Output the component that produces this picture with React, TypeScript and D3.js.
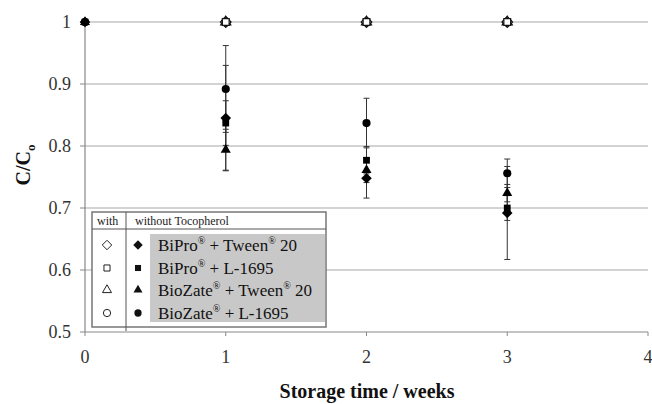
import React from "react";
import * as d3 from "d3";

const weeks = [0, 1, 2, 3];
const seriesNames = ["BiPro", "BiPro", "BioZate", "BioZate"];
const surfactants = ["Tween", "L-1695", "Tween", "L-1695"];
const yTicks = [0.5, 0.6, 0.7, 0.8, 0.9, 1];
const xTicks = [0, 1, 2, 3, 4];

// without tocopherol (filled)
const biproTween = [1, 0.845, 0.748, 0.692];
const biproTweenErr = [0, 0.085, 0.032, 0.075];
const biproL1695 = [1, 0.837, 0.777, 0.7];
const biproL1695Err = [0, 0.036, 0.022, 0.02];
const biozateTween = [1, 0.794, 0.761, 0.724];
const biozateTweenErr = [0, 0.033, 0.02, 0.014];
const biozateL1695 = [1, 0.892, 0.837, 0.756];
const biozateL1695Err = [0, 0.07, 0.04, 0.023];

// with tocopherol (open)
const withToco = [1, 1, 1, 1];

const width = 652;
const height = 404;
const margin = { left: 85, right: 4, top: 22, bottom: 72 };

// square rotated 45deg for the diamond, like the spreadsheet marker
const diamond: d3.SymbolType = {
  draw(ctx, size) {
    const r = Math.sqrt(size / 2);
    ctx.moveTo(0, -r);
    ctx.lineTo(r, 0);
    ctx.lineTo(0, r);
    ctx.lineTo(-r, 0);
    ctx.closePath();
  },
};
const symbols = [diamond, d3.symbolSquare, d3.symbolTriangle, d3.symbolCircle];
const symSizes = [56, 46, 44, 52];
// draw order so the square ends on top at week 0
const drawOrder = [3, 2, 0, 1];

export default function App() {
  const x = d3.scaleLinear().domain([0, 4]).range([margin.left, width - margin.right]);
  const y = d3.scaleLinear().domain([0.5, 1]).range([height - margin.bottom, margin.top]);

  const filled = [
    { v: biproTween, e: biproTweenErr },
    { v: biproL1695, e: biproL1695Err },
    { v: biozateTween, e: biozateTweenErr },
    { v: biozateL1695, e: biozateL1695Err },
  ];

  const sym = (i: number, s = 1) => d3.symbol().type(symbols[i]).size(symSizes[i] * s)()!;
  const serif = "'Liberation Serif', 'Times New Roman', serif";

  const lg = { x: 92, y: 212, w: 234, h: 115 };
  const rowY = [245, 268, 290, 313];

  return (
    <svg width={width} height={height} style={{ position: "absolute", left: 0, top: 0, fontFamily: serif }}>
      <rect width={width} height={height} fill="#fff" />
      {/* gridlines */}
      {yTicks.slice(1).map((t) => (
        <line key={t} x1={margin.left} x2={width - margin.right} y1={y(t)} y2={y(t)} stroke="#c4c4c4" strokeWidth={1.3} />
      ))}
      {/* axes */}
      <line x1={x(0)} x2={x(0)} y1={y(1)} y2={y(0.5)} stroke="#888" strokeWidth={1.2} />
      <line x1={x(0)} x2={x(4)} y1={y(0.5)} y2={y(0.5)} stroke="#888" strokeWidth={1.2} />
      {yTicks.map((t) => (
        <g key={t}>
          <line x1={x(0) - 5} x2={x(0)} y1={y(t)} y2={y(t)} stroke="#888" />
          <text x={71} y={y(t)} dy="0.35em" textAnchor="end" fontSize={18} fill="#333">{d3.format("")(t)}</text>
        </g>
      ))}
      {xTicks.map((t) => (
        <g key={t}>
          <line x1={x(t)} x2={x(t)} y1={y(0.5)} y2={y(0.5) + 4} stroke="#888" />
          <text x={x(t)} y={363} textAnchor="middle" fontSize={18} fill="#333">{t}</text>
        </g>
      ))}
      <text x={367} y={398} textAnchor="middle" fontSize={20} fontWeight="bold" fill="#111">Storage time / weeks</text>
      <text transform="translate(30,165) rotate(-90)" textAnchor="middle" fontSize={20} fontWeight="bold" fill="#111">
        C/C<tspan fontSize={13} dy={5}>o</tspan>
      </text>

      {/* legend */}
      <rect x={lg.x} y={lg.y} width={lg.w} height={lg.h} fill="#fff" stroke="#777" strokeWidth={1.5} />
      <rect x={150} y={234} width={175} height={88} fill="#c8c8c8" />
      <line x1={lg.x} x2={lg.x + lg.w} y1={229} y2={229} stroke="#555" />
      <line x1={126} x2={126} y1={lg.y} y2={lg.y + lg.h + 4} stroke="#555" />
      <text x={97} y={225} fontSize={12} fill="#222">with</text>
      <text x={135} y={225} fontSize={12} fill="#222">without Tocopherol</text>
      {rowY.map((ry, i) => (
        <g key={i}>
          <path d={sym(i, 0.8)} transform={`translate(107,${ry})`} fill="#fff" stroke="#222" strokeWidth={1} />
          <path d={sym(i, 0.8)} transform={`translate(138,${ry})`} fill="#111" />
          <text x={158} y={ry} dy="0.35em" fontSize={17} fill="#111">
            {seriesNames[i]}
            <tspan fontSize={10} dy={-7}>®</tspan>
            <tspan dy={7}> + {surfactants[i]}</tspan>
            {surfactants[i] === "Tween" ? (
              <>
                <tspan fontSize={10} dy={-7}>®</tspan>
                <tspan dy={7}> 20</tspan>
              </>
            ) : null}
          </text>
        </g>
      ))}

      {/* with tocopherol, open markers */}
      {drawOrder.map((i) =>
        weeks.slice(1).map((w, j) => (
          <path key={`o${i}-${j}`} d={sym(i)} transform={`translate(${x(w)},${y(withToco[j + 1])})`} fill="#fff" stroke="#111" strokeWidth={1.2} />
        ))
      )}

      {/* without tocopherol, error bars then markers */}
      {filled.map((s, i) =>
        weeks.map((w, j) =>
          s.e[j] > 0 ? (
            <g key={`e${i}-${j}`} stroke="#333" strokeWidth={1}>
              <line x1={x(w)} x2={x(w)} y1={y(s.v[j] + s.e[j])} y2={y(s.v[j] - s.e[j])} />
              <line x1={x(w) - 3} x2={x(w) + 3} y1={y(s.v[j] + s.e[j])} y2={y(s.v[j] + s.e[j])} />
              <line x1={x(w) - 3} x2={x(w) + 3} y1={y(s.v[j] - s.e[j])} y2={y(s.v[j] - s.e[j])} />
            </g>
          ) : null
        )
      )}
      {drawOrder.map((i) =>
        weeks.map((w, j) => (
          <path key={`f${i}-${j}`} d={sym(i)} transform={`translate(${x(w)},${y(filled[i].v[j])})`} fill="#000" />
        ))
      )}
    </svg>
  );
}
